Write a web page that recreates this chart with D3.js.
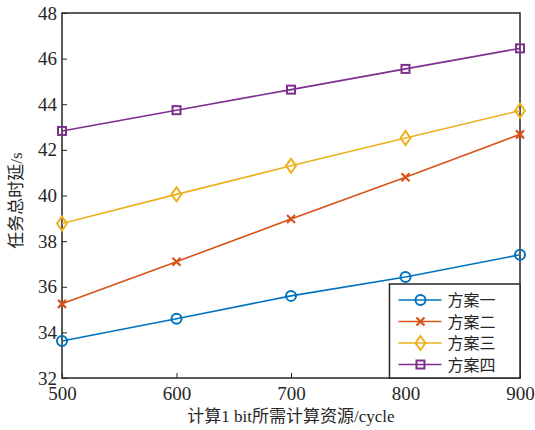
<!DOCTYPE html>
<html>
<head>
<meta charset="utf-8">
<script src="https://cdn.jsdelivr.net/npm/d3@7"></script>
<style>
body { margin: 0; background: #fff; }
text { font-family: "Liberation Serif", "Times New Roman", "Noto Sans CJK SC", serif; }
</style>
</head>
<body>
<div id="chart-area"></div>
<script>
// data
var xs = [500, 600, 700, 800, 900]
var names = ["方案一", "方案二", "方案三", "方案四"]
var plan1 = [33.62, 34.6, 35.6, 36.43, 37.4]
var plan2 = [35.25, 37.1, 38.97, 40.8, 42.68]
var plan3 = [38.77, 40.05, 41.3, 42.52, 43.72]
var plan4 = [42.83, 43.74, 44.64, 45.55, 46.45]
var xTicks = [500, 600, 700, 800, 900]
var yTicks = [32, 34, 36, 38, 40, 42, 44, 46, 48]

var colors = ["#0072BD", "#D95319", "#EDB120", "#7E2F8E"]
var shapes = ["circle", "cross", "diamond", "square"]
var series = [plan1, plan2, plan3, plan4]

var margin = {top: 13, right: 15, bottom: 52, left: 62}
var width = 535 - margin.left - margin.right
var height = 430 - margin.top - margin.bottom

var svg = d3.select("#chart-area").append("svg")
.attr("width", 535)
.attr("height", 430)

var g = svg.append("g")
.attr("transform", "translate(" + margin.left + ", " + margin.top + ")")

var x = d3.scaleLinear().domain([500, 900]).range([0, width])
var y = d3.scaleLinear().domain([32, 48]).range([height, 0])

// axes, inward ticks
var xAxis = g.append("g")
.attr("transform", "translate(0, " + height + ")")
.call(d3.axisBottom(x).tickValues(xTicks).tickSize(-5).tickPadding(9))
var yAxis = g.append("g")
.call(d3.axisLeft(y).tickValues(yTicks).tickSize(-5).tickPadding(5))

;[xAxis, yAxis].forEach(ax => {
	ax.attr("font-family", null).attr("font-size", null)
	ax.select(".domain").remove()
	ax.selectAll("line").attr("stroke", "#262626")
	ax.selectAll("text").attr("font-size", "19px").attr("fill", "#262626")
})

// box
g.append("rect")
.attr("width", width)
.attr("height", height)
.attr("fill", "none")
.attr("stroke", "#262626")
.attr("stroke-width", 1.5)

function marker(sel, shape, color) {
	if (shape == "circle") {
		sel.append("circle").attr("r", 5).attr("fill", "none")
		.attr("stroke", color).attr("stroke-width", 2)
	} else if (shape == "cross") {
		sel.append("path").attr("d", "M-4,-4L4,4M-4,4L4,-4")
		.attr("stroke", color).attr("stroke-width", 2.2)
	} else if (shape == "diamond") {
		sel.append("path").attr("d", "M0,-7L5,0L0,7L-5,0Z").attr("fill", "none")
		.attr("stroke", color).attr("stroke-width", 2)
	} else {
		sel.append("rect").attr("x", -4).attr("y", -4).attr("width", 8).attr("height", 8)
		.attr("fill", "none").attr("stroke", color).attr("stroke-width", 2)
	}
}

var line = d3.line().x((d, i) => x(xs[i])).y(d => y(d))

series.forEach((s, k) => {
	g.append("path")
	.attr("d", line(s))
	.attr("fill", "none")
	.attr("stroke", colors[k])
	.attr("stroke-width", 1.6)
	s.forEach((v, i) => {
		var m = g.append("g").attr("transform", "translate(" + x(xs[i]) + "," + y(v) + ")")
		marker(m, shapes[k], colors[k])
	})
})

// legend
var lx = x(786), ly = y(36.12)
var legend = g.append("g").attr("transform", "translate(" + lx + "," + ly + ")")
legend.append("rect")
.attr("width", width - lx)
.attr("height", height - ly)
.attr("fill", "#fff")
.attr("stroke", "#262626")
.attr("stroke-width", 1.5)

names.forEach((n, k) => {
	var row = legend.append("g").attr("transform", "translate(0," + (16 + k * 21.5) + ")")
	row.append("line").attr("x1", 9).attr("x2", 52)
	.attr("stroke", colors[k]).attr("stroke-width", 1.6)
	marker(row.append("g").attr("transform", "translate(31,0)"), shapes[k], colors[k])
	row.append("text").attr("x", 58).attr("y", 6)
	.attr("font-size", "16px")
	.style("font-family", "Noto Sans CJK SC")
	.attr("fill", "#262626")
	.text(n)
})

// labels
g.append("text")
.attr("x", width / 2)
.attr("y", height + 44)
.attr("font-size", "17px")
.attr("text-anchor", "middle")
.attr("fill", "#262626")
.text("计算1 bit所需计算资源/cycle")

g.append("text")
.attr("transform", "rotate(-90)")
.attr("x", -(height / 2) - 5)
.attr("y", -40)
.attr("font-size", "17px")
.attr("text-anchor", "middle")
.attr("fill", "#262626")
.text("任务总时延/s")
</script>
</body>
</html>
